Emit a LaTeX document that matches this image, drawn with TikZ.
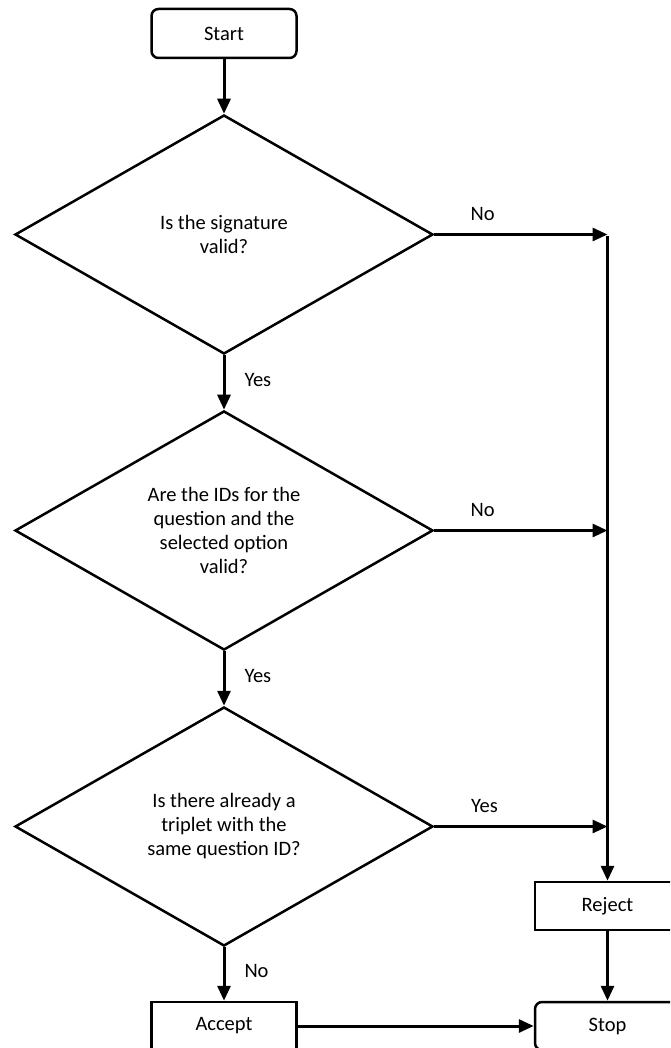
\documentclass[tikz,border=0pt]{standalone}
\usepackage{fontspec}
\setmainfont{Carlito}
\usetikzlibrary{shapes.geometric,arrows.meta}
\begin{document}
\begin{tikzpicture}[x=1pt,y=-1pt,
  every node/.style={font=\fontsize{20.5}{24}\selectfont},
  decision/.style={diamond,draw,line width=2.5pt,minimum width=418pt,minimum height=239pt,inner sep=0pt,align=center},
  process/.style={rectangle,draw,line width=2.5pt,minimum width=145pt,minimum height=48pt,inner sep=0pt},
  terminal/.style={process,rounded corners=7pt},
  arr/.style={line width=3pt,-{Triangle[length=15pt,width=13pt]}},
  ln/.style={line width=3pt},
  lbl/.style={inner sep=0pt}]
\useasboundingbox (0,0) rectangle (670,1048);
\clip (0,0) rectangle (670,1048);
\node[terminal,minimum height=49pt] (start) at (224,33.5) {Start};
\node[decision] (d1) at (224,234.5) {Is the signature\\valid?};
\node[decision] (d2) at (224,530.5) {Are the IDs for the\\question and the\\selected option\\valid?};
\node[decision] (d3) at (224,826.5) {Is there already a\\triplet with the\\same question ID?};
\node[process] (rej) at (607.5,906) {Reject};
\node[terminal] (stop) at (607.5,1026) {Stop};
\node[process] (acc) at (224,1026) {Accept};
\coordinate (j1) at (d1.east -| rej.north);
\coordinate (j2) at (d2.east -| rej.north);
\coordinate (j3) at (d3.east -| rej.north);
\draw[arr] (start) -- (d1);
\draw[arr] (d1) -- node[lbl,right=19pt,pos=0.45]{Yes} (d2);
\draw[arr] (d2) -- node[lbl,right=19pt,pos=0.45]{Yes} (d3);
\draw[arr] (d3) -- node[lbl,right=19pt,pos=0.45]{No} (acc);
\draw[arr] (d1.east) -- node[lbl,above=12pt,pos=0.28]{No} (j1);
\draw[arr] (d2.east) -- node[lbl,above=12pt,pos=0.28]{No} (j2);
\draw[arr] (d3.east) -- node[lbl,above=12pt,pos=0.29]{Yes} (j3);
\draw[ln] ([yshift=-1.5pt]j1) -- (j2);
\draw[arr] ([yshift=-1.5pt]j1) -- (rej.north);
\draw[arr] (rej) -- (stop);
\draw[arr] (acc) -- (stop);
\end{tikzpicture}
\end{document}
